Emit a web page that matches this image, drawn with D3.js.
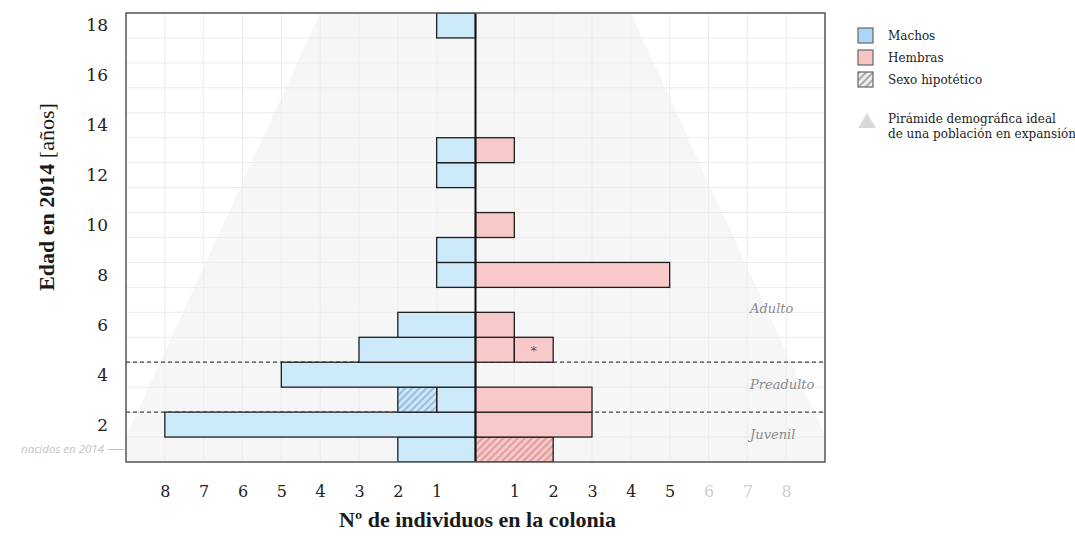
<!DOCTYPE html>
<html>
<head>
<meta charset="utf-8">
<script src="https://cdn.jsdelivr.net/npm/d3@7/dist/d3.min.js"></script>
<style>
  html, body { margin: 0; padding: 0; background: #fff; }
  svg { display: block; }
</style>
</head>
<body>
<svg id="chart" width="1075" height="537"></svg>
<script>
// ---- DATA ----
// age bands (0 = born in 2014), counted from the bottom
const bandas = [0, 1, 2, 3, 4, 5, 6, 7, 8, 9, 10, 11, 12, 13, 14, 15, 16, 17];
const machos            = [2, 8, 1, 5, 3, 2, 0, 1, 1, 0, 0, 1, 1, 0, 0, 0, 0, 1];
const machosHipoteticos = [0, 0, 1, 0, 0, 0, 0, 0, 0, 0, 0, 0, 0, 0, 0, 0, 0, 0];
const hembras            = [0, 3, 3, 0, 1, 1, 0, 5, 0, 1, 0, 0, 1, 0, 0, 0, 0, 0];
const hembrasDudosas     = [0, 0, 0, 0, 1, 0, 0, 0, 0, 0, 0, 0, 0, 0, 0, 0, 0, 0];
const hembrasHipoteticas = [2, 0, 0, 0, 0, 0, 0, 0, 0, 0, 0, 0, 0, 0, 0, 0, 0, 0];
const yTickBandas = [1, 3, 5, 7, 9, 11, 13, 15, 17];
const yTickLabels = ["2", "4", "6", "8", "10", "12", "14", "16", "18"];
const xTicks = [-8, -7, -6, -5, -4, -3, -2, -1, 1, 2, 3, 4, 5, 6, 7, 8];
const etapasLimites = [2, 4];
const etapasNombres = ["Juvenil", "Preadulto", "Adulto"];
const piramide = [[-9.3, 0], [-4, 18], [4, 18], [9.3, 0]];
const leyenda = ["Machos", "Hembras", "Sexo hipotético"];

// ---- LAYOUT ----
const svg = d3.select("#chart");
const L = 126, R = 825, T = 13, B = 462;
const x = d3.scaleLinear().domain([-9, 9]).range([L, R]);
const y = d3.scaleLinear().domain([0, 18]).range([B, T]);

const BLUE = "#cdeafb", PINK = "#f9c9c9";
const serif = "'Liberation Serif', serif";

const defs = svg.append("defs");
function hatch(id, bg, line) {
  const p = defs.append("pattern").attr("id", id)
    .attr("patternUnits", "userSpaceOnUse").attr("width", 5).attr("height", 5)
    .attr("patternTransform", "rotate(45)");
  p.append("rect").attr("width", 5).attr("height", 5).attr("fill", bg);
  p.append("line").attr("x1", 1).attr("y1", 0).attr("x2", 1).attr("y2", 5)
    .attr("stroke", line).attr("stroke-width", 1.6);
}
hatch("hBlue", "#cfe6f6", "#86b6dc");
hatch("hPink", "#f6c8c8", "#d99494");
hatch("hGray", "#eeeeee", "#9a9a9a");
defs.append("clipPath").attr("id", "plotClip")
  .append("rect").attr("x", L).attr("y", T).attr("width", R - L).attr("height", B - T);

const plot = svg.append("g").attr("clip-path", "url(#plotClip)");

// pyramid background
plot.append("path")
  .attr("d", d3.line().x(d => x(d[0])).y(d => y(d[1]))(piramide) + "Z")
  .attr("fill", "#f6f6f6");

// grid
plot.append("g").selectAll("line").data(d3.range(-9, 10))
  .join("line")
  .attr("x1", d => x(d)).attr("x2", d => x(d)).attr("y1", T).attr("y2", B)
  .attr("stroke", "#ececec").attr("stroke-width", 1);
plot.append("g").selectAll("line").data(bandas)
  .join("line")
  .attr("y1", d => y(d)).attr("y2", d => y(d)).attr("x1", L).attr("x2", R)
  .attr("stroke", "#ececec").attr("stroke-width", 1);

// stage dashed lines
plot.append("g").selectAll("line").data(etapasLimites)
  .join("line")
  .attr("y1", d => y(d)).attr("y2", d => y(d)).attr("x1", L).attr("x2", R)
  .attr("stroke", "#444").attr("stroke-width", 1.3).attr("stroke-dasharray", "4,3");

// stage labels
const etapaY = [1.05, 3.05, 6.1];
plot.append("g").selectAll("text").data(etapasNombres)
  .join("text")
  .attr("x", x(7.07)).attr("y", (d, i) => y(etapaY[i]))
  .attr("text-anchor", "start").attr("dominant-baseline", "middle")
  .attr("font-family", "'DejaVu Serif', serif").attr("font-style", "italic")
  .attr("font-size", 13).attr("fill", "#8a8a8a")
  .text(d => d);

// build segments
const segs = [];
bandas.forEach((b, i) => {
  if (machos[i] > 0) segs.push({ b, x0: 0, x1: -machos[i], fill: BLUE });
  if (machosHipoteticos[i] > 0) segs.push({ b, x0: -machos[i], x1: -(machos[i] + machosHipoteticos[i]), fill: "url(#hBlue)" });
  if (hembras[i] > 0) segs.push({ b, x0: 0, x1: hembras[i], fill: PINK });
  if (hembrasDudosas[i] > 0) segs.push({ b, x0: hembras[i], x1: hembras[i] + hembrasDudosas[i], fill: PINK, star: true });
  if (hembrasHipoteticas[i] > 0) {
    const s = hembras[i] + hembrasDudosas[i];
    segs.push({ b, x0: s, x1: s + hembrasHipoteticas[i], fill: "url(#hPink)" });
  }
});

plot.append("g").selectAll("rect").data(segs)
  .join("rect")
  .attr("x", d => x(Math.min(d.x0, d.x1)))
  .attr("width", d => Math.abs(x(d.x1) - x(d.x0)))
  .attr("y", d => y(d.b + 1))
  .attr("height", d => y(d.b) - y(d.b + 1))
  .attr("fill", d => d.fill)
  .attr("stroke", "#1e1e1e").attr("stroke-width", 1.3);

plot.append("g").selectAll("text").data(segs.filter(d => d.star))
  .join("text")
  .attr("x", d => x((d.x0 + d.x1) / 2))
  .attr("y", d => y(d.b + 0.5) + 5)
  .attr("text-anchor", "middle")
  .attr("font-family", "'DejaVu Sans', sans-serif").attr("font-size", 13)
  .attr("fill", "#7a4a4a").text("*");

// center line
svg.append("line").attr("x1", x(0)).attr("x2", x(0)).attr("y1", T).attr("y2", B)
  .attr("stroke", "#111").attr("stroke-width", 2);

// frame
svg.append("rect").attr("x", L).attr("y", T).attr("width", R - L).attr("height", B - T)
  .attr("fill", "none").attr("stroke", "#555").attr("stroke-width", 1.5);

// y axis
const yAx = svg.append("g").attr("transform", `translate(${L},0)`)
  .call(d3.axisLeft(y).tickValues(yTickBandas.map(b => b + 0.5))
    .tickFormat((d, i) => yTickLabels[i]).tickSize(0).tickPadding(18));
yAx.select(".domain").remove();
yAx.selectAll("text").attr("font-family", "'DejaVu Serif', serif")
  .attr("font-size", 17).attr("fill", "#222");

// "nacidos en 2014"
svg.append("text").attr("x", 104).attr("y", y(0.5)).attr("dominant-baseline", "middle")
  .attr("text-anchor", "end").attr("font-family", "'Open Sans', sans-serif")
  .attr("font-style", "italic").attr("font-size", 11.5).attr("fill", "#c4c4c4")
  .text("nacidos en 2014");
svg.append("line").attr("x1", 108).attr("x2", L - 2).attr("y1", y(0.5)).attr("y2", y(0.5))
  .attr("stroke", "#c4c4c4").attr("stroke-width", 1);

// x axis
const xAx = svg.append("g").attr("transform", `translate(0,${B})`)
  .call(d3.axisBottom(x).tickValues(xTicks).tickFormat(d => Math.abs(d))
    .tickSize(0).tickPadding(24));
xAx.select(".domain").remove();
xAx.selectAll("text").attr("font-family", "'DejaVu Serif', serif")
  .attr("font-size", 16).attr("fill", d => d > 5 ? "#cfcfcf" : "#222");

// axis titles
svg.append("text").attr("x", x(0) + 2).attr("y", 527).attr("text-anchor", "middle")
  .attr("font-family", serif).attr("font-weight", "bold").attr("font-size", 22)
  .attr("fill", "#1a1a1a").text("Nº de individuos en la colonia");

const yt = svg.append("text").attr("transform", "translate(54,197) rotate(-90)")
  .attr("text-anchor", "middle").attr("font-family", serif)
  .attr("font-size", 22).attr("fill", "#1a1a1a");
yt.append("tspan").attr("font-weight", "bold").text("Edad en 2014 ");
yt.append("tspan").attr("font-weight", "normal").text("[años]");

// legend
const lg = svg.append("g").attr("transform", "translate(858,28)");
const legFills = ["#a9d5f7", "#f8c4c4", "url(#hGray)"];
const li = lg.selectAll("g").data(leyenda).join("g")
  .attr("transform", (d, i) => `translate(0,${i * 22})`);
li.append("rect").attr("width", 15).attr("height", 15).attr("fill", (d, i) => legFills[i])
  .attr("stroke", "#666").attr("stroke-width", 1.2);
li.append("text").attr("x", 30).attr("y", 8).attr("dominant-baseline", "middle")
  .attr("font-family", "'DejaVu Serif', serif").attr("font-size", 12)
  .attr("fill", "#222").text(d => d);
lg.append("path").attr("d", "M0,100 L9,85 L18,100 Z").attr("fill", "#d9d9d9");
const lt = lg.append("text").attr("x", 30).attr("y", 95)
  .attr("font-family", "'DejaVu Serif', serif").attr("font-size", 12).attr("fill", "#222");
lt.append("tspan").attr("x", 30).text("Pirámide demográfica ideal");
lt.append("tspan").attr("x", 30).attr("dy", 14.5).text("de una población en expansión");
</script>
</body>
</html>
